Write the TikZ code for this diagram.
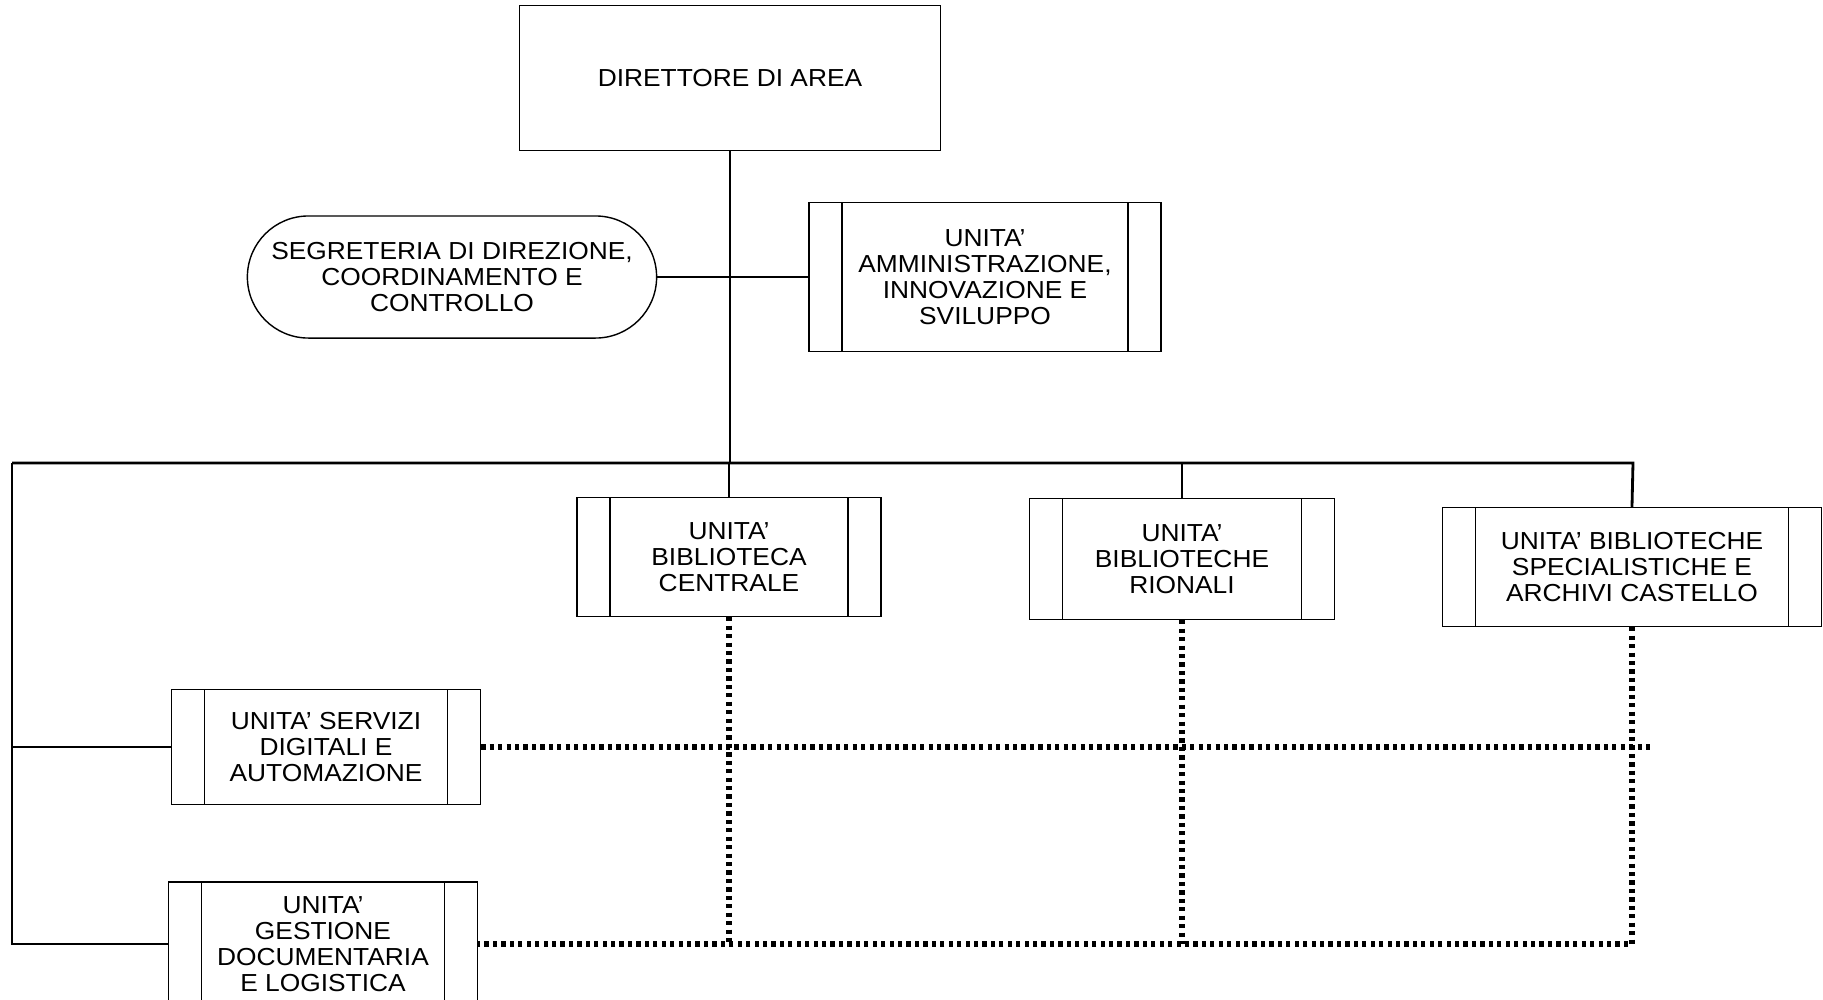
\documentclass[tikz,border=0pt]{standalone}
\usepackage{fontspec}
\setmainfont{Liberation Sans}[FakeStretch=1.07]
\usetikzlibrary{shapes.misc}

\begin{document}
\begin{tikzpicture}[x=.01cm,y=-.01cm,
  box/.style={draw,line width=.4pt,align=center,inner sep=0pt,font=\fontsize{7}{7.4}\selectfont},
  unit/.style={box,path picture={
    \draw([xshift=.33cm]path picture bounding box.north west)--([xshift=.33cm]path picture bounding box.south west);
    \draw([xshift=-.33cm]path picture bounding box.north east)--([xshift=-.33cm]path picture bounding box.south east);}},
  link/.style={line width=.8pt},
  dots/.style={line width=1.7pt,dash pattern=on 1.2pt off 1.2pt}]
\useasboundingbox(0,0)rectangle(1823,999);
\coordinate(busL)at(12,463);
\coordinate(busR)at(1633,463);
\coordinate(dotE)at(1651,744);
\node[box,minimum width=4.21cm,minimum height=1.45cm](dir)at(730,78){DIRETTORE DI AREA};
\node[box,rounded rectangle,minimum width=4.09cm,minimum height=1.22cm](seg)at(452,277){SEGRETERIA DI DIREZIONE,\\COORDINAMENTO E\\CONTROLLO};
\node[unit,minimum width=3.52cm,minimum height=1.49cm](adm)at(985,277){UNITA’\\AMMINISTRAZIONE,\\INNOVAZIONE E\\SVILUPPO};
\node[unit,minimum width=3.04cm,minimum height=1.19cm](cen)at(729,557){UNITA’\\BIBLIOTECA\\CENTRALE};
\node[unit,minimum width=3.05cm,minimum height=1.21cm](rio)at(1182,559){UNITA’\\BIBLIOTECHE\\RIONALI};
\node[unit,minimum width=3.79cm,minimum height=1.19cm](cas)at(1632,567){UNITA’ BIBLIOTECHE\\SPECIALISTICHE E\\ARCHIVI CASTELLO};
\node[unit,minimum width=3.09cm,minimum height=1.15cm](srv)at(326,747){UNITA’ SERVIZI\\DIGITALI E\\AUTOMAZIONE};
\node[unit,minimum width=3.09cm,minimum height=1.24cm](ges)at(323,944){UNITA’\\GESTIONE\\DOCUMENTARIA\\E LOGISTICA};
\begin{scope}[link]
\draw(dir.south)--(dir.south|-busL);
\draw(seg.east)--(adm.west);
\draw(busL)--(busR)--(cas.north);
\draw(cen.north)--(cen.north|-busL);
\draw(rio.north)--(rio.north|-busL);
\draw(busL)--(busL|-ges.west)--(ges.west);
\draw(srv.west)--(srv.west-|busL);
\end{scope}
\begin{scope}[dots]
\draw(cen.south)--(cen.south|-ges.east);
\draw(rio.south)--(rio.south|-ges.east);
\draw(cas.south)--(cas.south|-ges.east)--(ges.east);
\draw(srv.east)--(srv.east-|dotE);
\end{scope}
\end{tikzpicture}
\end{document}
